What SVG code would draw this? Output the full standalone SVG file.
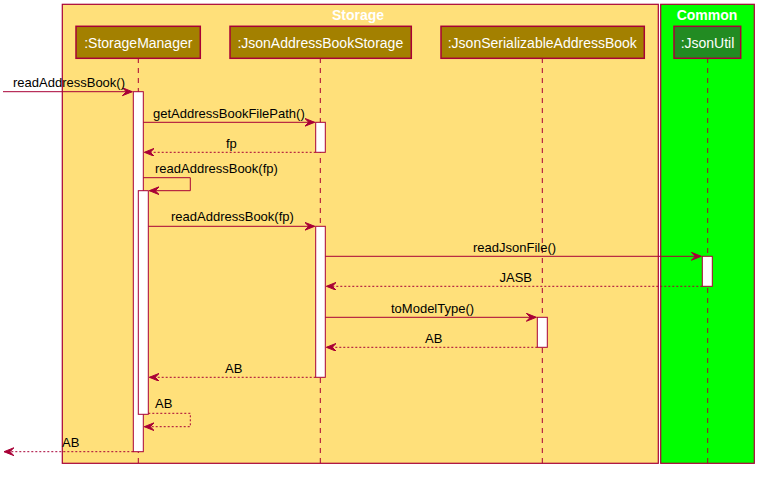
<svg xmlns="http://www.w3.org/2000/svg" width="764" height="480" viewBox="0 0 764 480">
<style>
.box{stroke:#A80036;stroke-width:1.2}
.part{fill:#A38000;stroke:#A80036;stroke-width:1.5}
.ptxt{font-family:"Liberation Sans",Arial,sans-serif;font-size:14px;fill:#FFFFFF;text-anchor:middle}
.title{font-family:"Liberation Sans",Arial,sans-serif;font-size:14px;font-weight:bold;fill:#FFFFFF;text-anchor:middle}
.life{stroke:#A80036;stroke-width:1;stroke-dasharray:5,5;fill:none}
.act{fill:#FFFFFF;stroke:#A80036;stroke-width:1}
.msg{stroke:#A80036;stroke-width:1;fill:none;marker-end:url(#ah)}
.ret{stroke:#A80036;stroke-width:1;fill:none;stroke-dasharray:2,2;marker-end:url(#ah)}
.mtxt{font-family:"Liberation Sans",Arial,sans-serif;font-size:13px;fill:#000000}
</style>
<defs>
<marker id="ah" markerUnits="userSpaceOnUse" markerWidth="12" markerHeight="10" refX="10" refY="4" orient="auto">
<polygon points="0,0 10,4 0,8 4,4" fill="#A80036" stroke="#A80036" stroke-width="1"/>
</marker>
</defs>
<rect width="764" height="480" fill="#FFFFFF"/>
<g id="box-storage">
<rect class="box" x="62.3" y="4.3" width="596" height="459" fill="#FFE07A"/>
<text class="title" x="358" y="20">Storage</text>
</g>
<g id="box-common">
<rect class="box" x="660.7" y="4.3" width="93.6" height="459" fill="#00FF00"/>
<text class="title" x="707" y="20">Common</text>
</g>
<g id="lifelines">
<line class="life" x1="138.3" y1="58" x2="138.3" y2="466"/>
<line class="life" x1="320.3" y1="58" x2="320.3" y2="466"/>
<line class="life" x1="542.3" y1="58" x2="542.3" y2="466"/>
<line class="life" x1="707.7" y1="58" x2="707.7" y2="466"/>
</g>
<g id="StorageManager">
<rect class="part" x="76" y="26.3" width="124.3" height="32"/>
<text class="ptxt" x="138.3" y="47.5">:StorageManager</text>
</g>
<g id="JsonAddressBookStorage">
<rect class="part" x="230" y="26.3" width="181.3" height="32"/>
<text class="ptxt" x="320.3" y="47.5">:JsonAddressBookStorage</text>
</g>
<g id="JsonSerializableAddressBook">
<rect class="part" x="441" y="26.3" width="203.3" height="32"/>
<text class="ptxt" x="542.3" y="47.5">:JsonSerializableAddressBook</text>
</g>
<g id="JsonUtil">
<rect class="part" x="674" y="26.3" width="66.7" height="32" style="fill:#228B22"/>
<text class="ptxt" x="707.5" y="47.5">:JsonUtil</text>
</g>
<g id="activations">
<rect class="act" x="133.3" y="91.7" width="10" height="360"/>
<rect class="act" x="138.3" y="190.7" width="10" height="223.6"/>
<rect class="act" x="315.7" y="122.3" width="9.6" height="30"/>
<rect class="act" x="315.7" y="226.3" width="9.6" height="151"/>
<rect class="act" x="702.3" y="256.3" width="10" height="30"/>
<rect class="act" x="537.3" y="317.3" width="10" height="30"/>
</g>
<g id="connectors">
<line class="msg" x1="3" y1="91.7" x2="132.3" y2="91.7"/>
<text class="mtxt" x="13" y="87">readAddressBook()</text>
<line class="msg" x1="143.3" y1="122.3" x2="314.7" y2="122.3"/>
<text class="mtxt" x="153" y="118">getAddressBookFilePath()</text>
<line class="ret" x1="315.7" y1="152.3" x2="144.3" y2="152.3"/>
<text class="mtxt" x="226" y="148">fp</text>
<polyline class="msg" points="143.3,177.7 190.3,177.7 190.3,190.7 149.3,190.7"/>
<text class="mtxt" x="155" y="173">readAddressBook(fp)</text>
<line class="msg" x1="148.3" y1="226.3" x2="314.7" y2="226.3"/>
<text class="mtxt" x="171" y="221">readAddressBook(fp)</text>
<line class="msg" x1="325.3" y1="256.3" x2="701.3" y2="256.3"/>
<text class="mtxt" x="473" y="252">readJsonFile()</text>
<line class="ret" x1="702.3" y1="286.3" x2="326.3" y2="286.3"/>
<text class="mtxt" x="499.5" y="282">JASB</text>
<line class="msg" x1="325.3" y1="317.3" x2="536.3" y2="317.3"/>
<text class="mtxt" x="391" y="313">toModelType()</text>
<line class="ret" x1="537.3" y1="347.3" x2="326.3" y2="347.3"/>
<text class="mtxt" x="425" y="343">AB</text>
<line class="ret" x1="315.7" y1="377.3" x2="149.3" y2="377.3"/>
<text class="mtxt" x="225" y="373">AB</text>
<polyline class="ret" points="148.3,413.3 190.3,413.3 190.3,426.7 144.3,426.7"/>
<text class="mtxt" x="155" y="408">AB</text>
<line class="ret" x1="133.3" y1="451.7" x2="4" y2="451.7"/>
<text class="mtxt" x="62" y="447">AB</text>
</g>
</svg>
